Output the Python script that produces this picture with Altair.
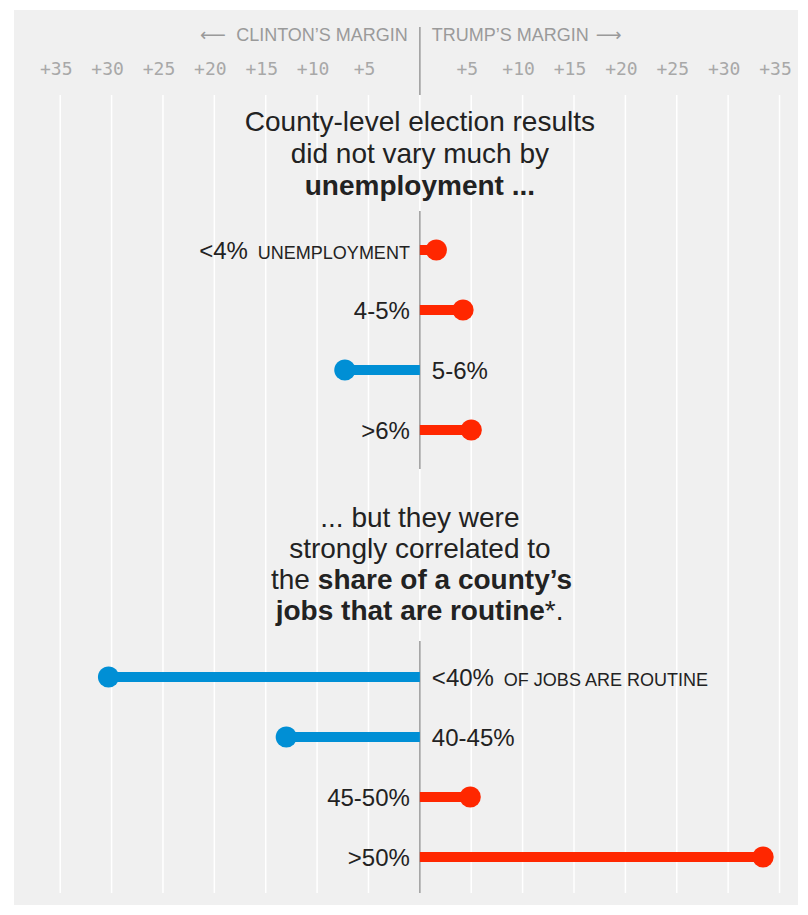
import altair as alt
import pandas as pd

# ---------------- data ----------------
unemp_cats = ["<4%", "4-5%", "5-6%", ">6%"]
unemp_margin = [1.6, 4.2, -7.3, 5.0]
unemp_suffix = ["UNEMPLOYMENT", "", "", ""]

routine_cats = ["<40%", "40-45%", "45-50%", ">50%"]
routine_margin = [-30.3, -13.0, 4.9, 33.4]
routine_suffix = ["OF JOBS ARE ROUTINE", "", "", ""]

tick_values = [-35, -30, -25, -20, -15, -10, -5, 0, 5, 10, 15, 20, 25, 30, 35]
tick_labels = ["+35", "+30", "+25", "+20", "+15", "+10", "+5", "",
               "+5", "+10", "+15", "+20", "+25", "+30", "+35"]

header_left = "CLINTON\u2019S MARGIN"
header_right = "TRUMP\u2019S MARGIN"
arrow_left = "\u27f5"
arrow_right = "\u27f6"

title1_lines = ["County-level election results", "did not vary much by", "unemployment ..."]
title1_bold = [False, False, True]

title2_centered = ["... but they were", "strongly correlated to"]
title2_line3 = ["the", "share of a county\u2019s"]
title2_line4 = ["jobs that are routine", "*."]

# ---------------- style ----------------
FONT = "Liberation Sans"
MONO = "DejaVu Sans Mono"
RED = "#ff2700"
BLUE = "#008fd5"
BG = "#f0f0f0"
INK = "#222222"
GREY = "#9a9a9a"
W = 784

xs = alt.Scale(domain=[-39.5, 36.8], nice=False, zero=False)
X0 = alt.X("zero:Q", scale=xs, axis=None)


def grid():
    d = pd.DataFrame({"v": tick_values})
    return alt.Chart(d).mark_rule(strokeWidth=1.5, color="#ffffff").encode(
        x=alt.X("v:Q", scale=xs, axis=None)
    )


def center_rule():
    d = pd.DataFrame({"v": [0]})
    return alt.Chart(d).mark_rule(strokeWidth=1.5, color=GREY).encode(
        x=alt.X("v:Q", scale=xs, axis=None)
    )


# ---------------- header panel ----------------
hdf = pd.DataFrame({"slot": ["header"], "left": [header_left], "right": [header_right],
                    "al": [arrow_left], "ar": [arrow_right]})
tdf = pd.DataFrame({"value": tick_values, "label": tick_labels})
tdf["slot"] = "ticks"
hy = alt.Y("slot:N", scale=alt.Scale(type="point", padding=0.75, domain=["header", "ticks"]), axis=None)


def htext(field, align, dx, font=FONT, size=18):
    return alt.Chart(hdf).transform_calculate(zero="0").mark_text(
        align=align, baseline="middle", dx=dx, fontSize=size, font=font, color=GREY).encode(
        x=X0, y=hy, text=f"{field}:N")


h_ticks = alt.Chart(tdf).mark_text(align="center", baseline="middle", dx=-4, fontSize=18,
                                   font=MONO, color="#a8a8a8").encode(
    x=alt.X("value:Q", scale=xs, axis=None), y=hy, text="label:N")
h_sep = alt.Chart(pd.DataFrame({"v": [0]})).mark_rule(strokeWidth=1.5, color=GREY).encode(
    x=alt.X("v:Q", scale=xs, axis=None), y=alt.value(17), y2=alt.value(85))

header = alt.layer(
    h_sep,
    htext("left", "right", -12),
    htext("right", "left", 12),
    htext("al", "right", -194, font="DejaVu Sans", size=18),
    htext("ar", "left", 176, font="DejaVu Sans", size=18),
    h_ticks,
).properties(width=W, height=85)

# ---------------- title 1 panel ----------------
TS = 28
t1df = pd.DataFrame({"line": [0, 1, 2], "text": title1_lines, "bold": title1_bold})
t1y = alt.Y("line:O", scale=alt.Scale(type="point", padding=0.8125), axis=None)
t1_reg = alt.Chart(t1df).transform_filter("!datum.bold").transform_calculate(zero="0").mark_text(
    align="center", baseline="middle", dy=1.5, fontSize=TS, font=FONT, color=INK).encode(
    x=X0, y=t1y, text="text:N")
t1_bold = alt.Chart(t1df).transform_filter("datum.bold").transform_calculate(zero="0").mark_text(
    align="center", baseline="middle", dy=1.5, fontSize=TS, font=FONT, fontWeight="bold", color=INK).encode(
    x=X0, y=t1y, text="text:N")
title1 = alt.layer(grid(), t1_reg, t1_bold).properties(width=W, height=116)


# ---------------- data panels ----------------
def data_panel(cats, margins, suffixes, height, pad):
    df = pd.DataFrame({"cat": cats, "margin": margins, "suffix": suffixes})
    y = alt.Y("cat:N", sort=cats, scale=alt.Scale(type="point", padding=pad), axis=None)
    base = alt.Chart(df).transform_calculate(
        party="datum.margin < 0 ? 'Clinton' : 'Trump'", zero="0").encode(y=y)
    color = alt.Color("party:N", scale=alt.Scale(domain=["Clinton", "Trump"], range=[BLUE, RED]),
                      legend=None)
    bars = base.mark_rule(strokeWidth=10).encode(
        x=alt.X("margin:Q", scale=xs, axis=None), x2="zero:Q", color=color)
    dots = base.mark_circle(size=450, opacity=1).encode(
        x=alt.X("margin:Q", scale=xs, axis=None), color=color)
    txt = dict(baseline="alphabetic", dy=8.5, font=FONT, color=INK)
    lab_pos = base.transform_filter("datum.margin >= 0 && datum.suffix == ''").mark_text(
        align="right", dx=-10, fontSize=24, **txt).encode(x=X0, text="cat:N")
    lab_neg = base.transform_filter("datum.margin < 0 && datum.suffix == ''").mark_text(
        align="left", dx=12, fontSize=24, **txt).encode(x=X0, text="cat:N")
    sp_cat = base.transform_filter("datum.margin >= 0 && datum.suffix != ''").mark_text(
        align="right", dx=-172, fontSize=24, **txt).encode(x=X0, text="cat:N")
    sp_suf = base.transform_filter("datum.margin >= 0 && datum.suffix != ''").mark_text(
        align="right", dx=-10, fontSize=18, **txt).encode(x=X0, text="suffix:N")
    sn_cat = base.transform_filter("datum.margin < 0 && datum.suffix != ''").mark_text(
        align="left", dx=12, fontSize=24, **txt).encode(x=X0, text="cat:N")
    sn_suf = base.transform_filter("datum.margin < 0 && datum.suffix != ''").mark_text(
        align="left", dx=84, fontSize=18, **txt).encode(x=X0, text="suffix:N")
    return alt.layer(grid(), center_rule(), bars, dots, lab_pos, lab_neg,
                     sp_cat, sp_suf, sn_cat, sn_suf).properties(width=W, height=height)


panel1 = data_panel(unemp_cats, unemp_margin, unemp_suffix, 258, 0.65)
panel2 = data_panel(routine_cats, routine_margin, routine_suffix, 252, 0.6)

# ---------------- title 2 panel ----------------
# one spare slot above and below the four lines keeps the line step at ~31px
t2y = alt.Y("line:O", scale=alt.Scale(type="point", padding=0.274, domain=[-1, 0, 1, 2, 3, 4]),
            axis=None)
t2c = pd.DataFrame({"line": [0, 1], "text": title2_centered})
t2a = pd.DataFrame({"line": [2], "text": [title2_line3[0]]})
t2b = pd.DataFrame({"line": [2], "text": [title2_line3[1]]})
t2c4 = pd.DataFrame({"line": [3], "text": [title2_line4[0]]})
t2d4 = pd.DataFrame({"line": [3], "text": [title2_line4[1]]})
tt = dict(baseline="middle", dy=10.5, fontSize=TS, font=FONT, color=INK)


def t2text(df, **kw):
    return alt.Chart(df).transform_calculate(zero="0").mark_text(**tt, **kw).encode(
        x=X0, y=t2y, text="text:N")


title2 = alt.layer(
    grid(),
    t2text(t2c, align="center"),
    t2text(t2a, align="right", dx=-110),
    t2text(t2b, align="left", dx=-102, fontWeight="bold"),
    t2text(t2c4, align="right", dx=125, fontWeight="bold"),
    t2text(t2d4, align="left", dx=125),
).properties(width=W, height=172)

# ---------------- footer ----------------
footer = alt.Chart(pd.DataFrame({"v": [0]})).mark_point(opacity=0).encode(
    x=alt.X("v:Q", scale=xs, axis=None)).properties(width=W, height=12)

chart = alt.vconcat(header, title1, panel1, title2, panel2, footer,
                    spacing=0, bounds="flush").properties(
    padding={"left": 6, "top": 2, "right": 0, "bottom": 0},
    background="white",
).configure_view(fill=BG, strokeWidth=0)

chart.save("out.html", embed_options={"renderer": "svg", "actions": False})
